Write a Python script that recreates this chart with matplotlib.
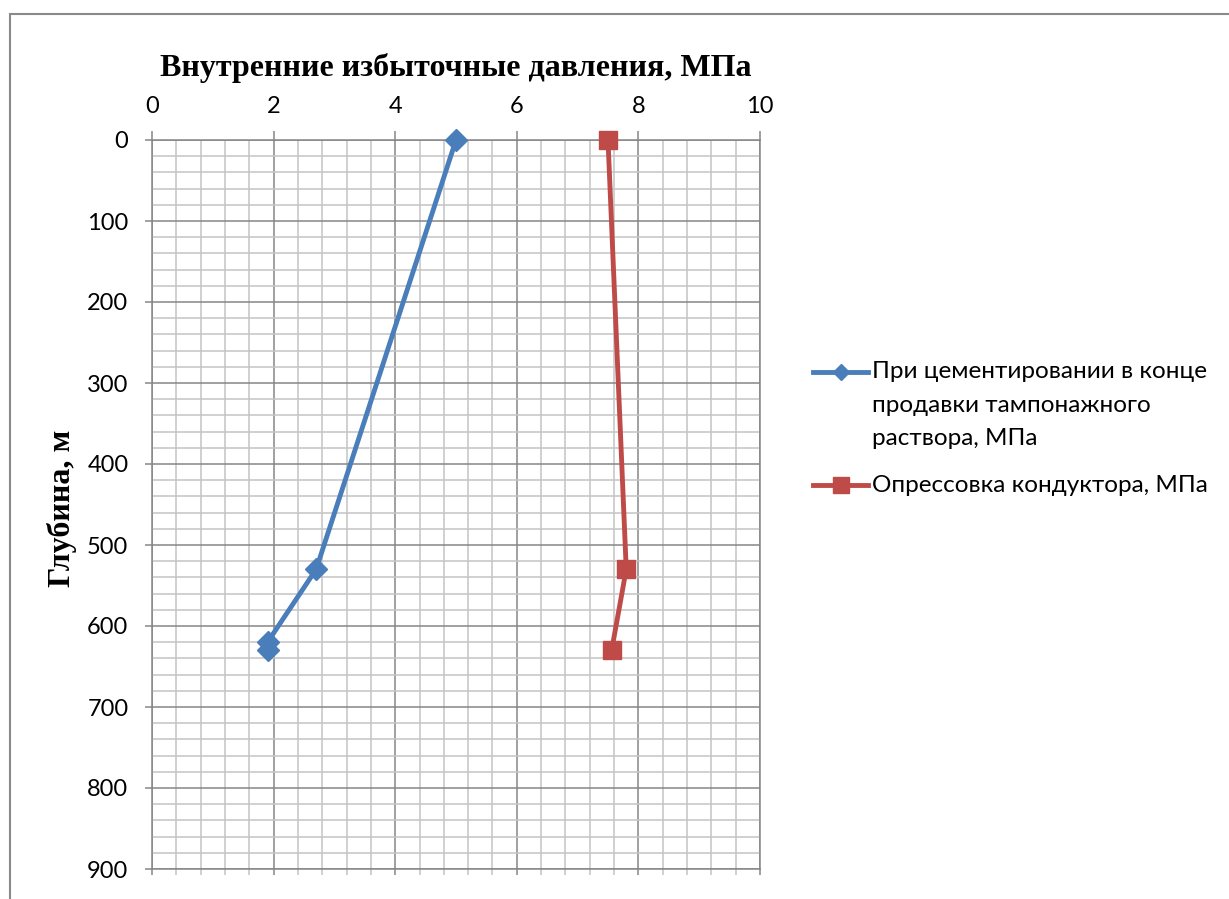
import matplotlib
matplotlib.use("Agg")
import matplotlib.pyplot as plt
from matplotlib.lines import Line2D
from matplotlib.patches import Rectangle
from matplotlib.ticker import MultipleLocator

# Depth (m) and internal overpressure (MPa) for each load case
depth_cement = [0, 530, 620, 630]
press_cement = [5.0, 2.7, 1.9, 1.9]

depth_test = [0, 530, 630]
press_test = [7.5, 7.8, 7.56]

label_cement = ["При цементировании в конце", "продавки тампонажного", "раствора, МПа"]
label_test = ["Опрессовка кондуктора, МПа"]

title_text = "Внутренние избыточные давления, МПа"
ylabel_text = "Глубина, м"

x_ticks = [0, 2, 4, 6, 8, 10]
y_ticks = [0, 100, 200, 300, 400, 500, 600, 700, 800, 900]

BLUE = "#4a7ebb"
RED = "#be4b48"
MAJOR = "#868686"
MINOR = "#c4c4c4"
W, H = 1229, 899

sans = ["Lato", "DejaVu Sans"]
serif = ["Liberation Serif", "DejaVu Serif"]

fig = plt.figure(figsize=(W / 100, H / 100), dpi=100)


def fx(px):
    return px / W


def fy(py):
    return 1 - py / H


# Outer chart frame (left and top edges visible)
fig.patches.append(Rectangle((fx(9.5), fy(13.5) - 1.2), 1.2, 1.2,
                             transform=fig.transFigure, fill=False,
                             edgecolor="#8a8a8a", linewidth=1.5, clip_on=False))

ax = fig.add_axes([fx(152), fy(869), fx(760) - fx(152), fy(140) - fy(869)])

ax.set_xlim(0, 10)
ax.set_ylim(900, 0)
ax.set_xticks(x_ticks)
ax.set_yticks(y_ticks)
ax.xaxis.set_minor_locator(MultipleLocator(0.4))
ax.yaxis.set_minor_locator(MultipleLocator(20))

ax.set_axisbelow(True)
ax.grid(which="minor", color=MINOR, linewidth=1.1)
ax.grid(which="major", color=MAJOR, linewidth=1.1)
for s in ax.spines.values():
    s.set_color(MAJOR)
    s.set_linewidth(1.1)

ax.xaxis.tick_top()
ax.tick_params(axis="x", which="major", top=True, bottom=False, labeltop=True,
               labelbottom=False, length=6.5, width=1.1, color=MAJOR, pad=10,
               labelsize=17)
ax.tick_params(axis="x", which="minor", top=False, bottom=False)
ax.tick_params(axis="y", which="major", left=True, length=5, width=1.1,
               color=MAJOR, pad=12, labelsize=17)
ax.tick_params(axis="y", which="minor", left=False)
for lab in ax.get_xticklabels() + ax.get_yticklabels():
    lab.set_family(sans)

# Short tick marks below the bottom edge
sec = ax.secondary_xaxis("bottom")
sec.set_xticks(x_ticks)
sec.xaxis.set_minor_locator(MultipleLocator(0.4))
sec.tick_params(axis="x", which="both", length=4.5, width=1.1, labelbottom=False)
sec.tick_params(axis="x", which="major", color=MAJOR)
sec.tick_params(axis="x", which="minor", color=MINOR)
sec.spines["bottom"].set_visible(False)

ax.plot(press_cement, depth_cement, color=BLUE, linewidth=3.5, marker="D",
        markersize=11, markerfacecolor=BLUE, markeredgecolor=BLUE, zorder=3,
        clip_on=False)
ax.plot(press_test, depth_test, color=RED, linewidth=3.5, marker="s",
        markersize=13.5, markerfacecolor=RED, markeredgecolor=RED, zorder=3,
        clip_on=False)

fig.text(fx(456), fy(68), title_text, ha="center", va="center",
         family=serif, fontweight="bold", fontsize=23)
fig.text(fx(62), fy(508), ylabel_text, ha="center", va="center", rotation=90,
         family=serif, fontweight="bold", fontsize=23)

# Legend drawn beside the plot area
def legend_entry(y_px, color, marker, ms, lines):
    fig.lines.append(Line2D([fx(813), fx(868)], [fy(y_px), fy(y_px)],
                            transform=fig.transFigure, color=color,
                            linewidth=3.5))
    fig.lines.append(Line2D([fx(840.5)], [fy(y_px)], transform=fig.transFigure,
                            color=color, marker=marker, markersize=ms,
                            markeredgecolor=color, linestyle="none"))
    for i, t in enumerate(lines):
        fig.text(fx(872), fy(y_px + 33 * i), t, ha="left", va="center",
                 family=sans, fontsize=17.5)


legend_entry(372, BLUE, "D", 8, label_cement)
legend_entry(485, RED, "s", 11, label_test)

fig.savefig("out.png", dpi=100)
